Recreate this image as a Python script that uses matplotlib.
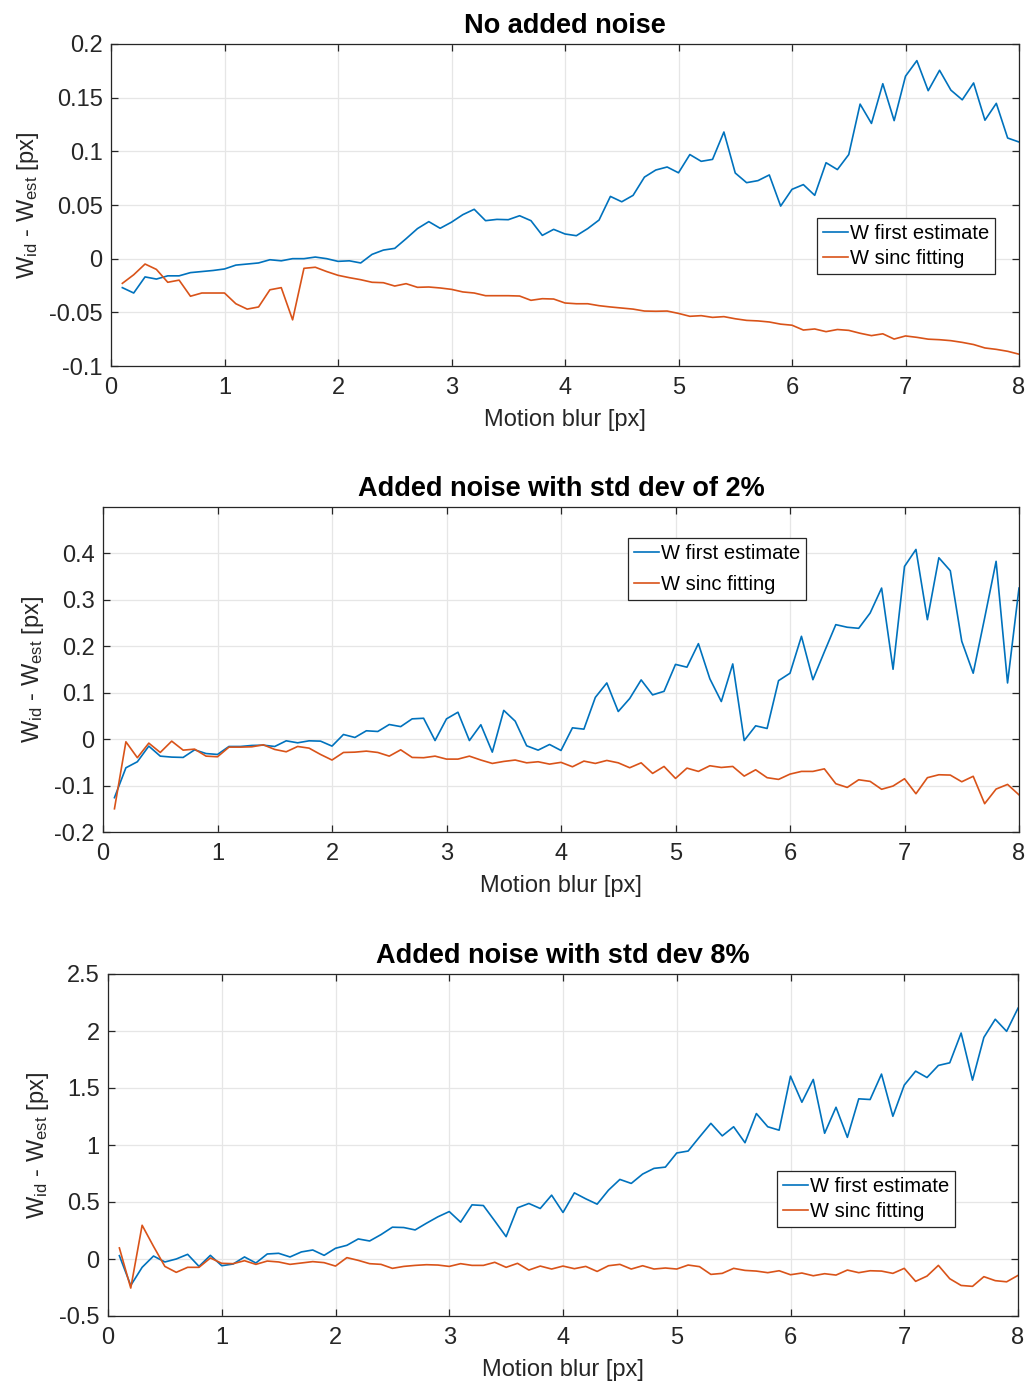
import matplotlib
matplotlib.use('Agg')
import matplotlib.pyplot as plt
import numpy as np
from matplotlib.ticker import FormatStrFormatter

plt.rcParams['font.family'] = ['Liberation Sans', 'DejaVu Sans']
plt.rcParams['mathtext.fontset'] = 'custom'
plt.rcParams['mathtext.rm'] = 'Liberation Sans'
plt.rcParams['mathtext.it'] = 'Liberation Sans'
plt.rcParams['axes.unicode_minus'] = False

motion_blur = np.linspace(0.1, 8.0, 80)

# no added noise
first_est_0 = [-0.027, -0.032, -0.017, -0.019, -0.016, -0.016, -0.013, -0.012, -0.011, -0.0096,
               -0.006, -0.005, -0.004, -0.001, -0.002, 0.000, 0.000, 0.0015, 0.000, -0.0025,
               -0.002, -0.004, 0.004, 0.008, 0.0096, 0.0186, 0.028, 0.0345, 0.0283, 0.034,
               0.041, 0.046, 0.0354, 0.0366, 0.0363, 0.040, 0.0354, 0.0217, 0.0273, 0.023,
               0.0214, 0.028, 0.036, 0.058, 0.053, 0.059, 0.076, 0.0826, 0.0854, 0.080,
               0.097, 0.0907, 0.0925, 0.118, 0.0798, 0.0708, 0.0727, 0.078, 0.049, 0.0646,
               0.069, 0.059, 0.0894, 0.083, 0.097, 0.144, 0.126, 0.163, 0.1286, 0.170,
               0.1845, 0.1565, 0.1755, 0.157, 0.148, 0.1637, 0.129, 0.1447, 0.1124, 0.1087]
sinc_fit_0 = [-0.023, -0.015, -0.005, -0.010, -0.022, -0.020, -0.035, -0.032, -0.032, -0.032,
              -0.042, -0.047, -0.045, -0.029, -0.027, -0.057, -0.009, -0.008, -0.012, -0.0155,
              -0.0177, -0.0196, -0.022, -0.0224, -0.0255, -0.0233, -0.0267, -0.0264, -0.0273, -0.0286,
              -0.031, -0.032, -0.0345, -0.0345, -0.0345, -0.0348, -0.0388, -0.0373, -0.0376, -0.0413,
              -0.042, -0.042, -0.0438, -0.045, -0.046, -0.047, -0.0488, -0.049, -0.0488, -0.051,
              -0.0537, -0.0531, -0.0547, -0.054, -0.056, -0.0575, -0.058, -0.059, -0.061, -0.062,
              -0.0665, -0.0655, -0.068, -0.066, -0.0668, -0.0695, -0.0717, -0.070, -0.0749, -0.072,
              -0.0733, -0.075, -0.0755, -0.0764, -0.078, -0.080, -0.0832, -0.0845, -0.0863, -0.089]

# noise std 2%
first_est_2 = [-0.126, -0.0617, -0.0487, -0.015, -0.0366, -0.0387, -0.0394, -0.023, -0.031, -0.033,
               -0.0158, -0.0158, -0.0136, -0.013, -0.0158, -0.0036, -0.0079, -0.0036, -0.0043, -0.015,
               0.010, 0.0036, 0.018, 0.0165, 0.0315, 0.027, 0.0437, 0.045, -0.003, 0.0437,
               0.058, -0.003, 0.031, -0.028, 0.062, 0.0387, -0.0143, -0.0237, -0.0115, -0.0244,
               0.0244, 0.0215, 0.090, 0.121, 0.0595, 0.0875, 0.1276, 0.0953, 0.103, 0.161,
               0.155, 0.2057, 0.130, 0.081, 0.162, -0.003, 0.0287, 0.023, 0.126, 0.142,
               0.2215, 0.128, 0.188, 0.2466, 0.241, 0.2387, 0.2717, 0.3254, 0.1505, 0.372,
               0.4086, 0.2573, 0.3907, 0.3627, 0.2108, 0.142, 0.261, 0.383, 0.121, 0.3254]
sinc_fit_2 = [-0.15, -0.0057, -0.040, -0.0086, -0.0287, -0.0043, -0.0237, -0.0215, -0.0366, -0.038,
              -0.0172, -0.0172, -0.0165, -0.0122, -0.0222, -0.0272, -0.0158, -0.0194, -0.033, -0.045,
              -0.0287, -0.028, -0.0258, -0.0287, -0.0366, -0.023, -0.0394, -0.040, -0.0366, -0.043,
              -0.043, -0.0366, -0.045, -0.0523, -0.048, -0.045, -0.051, -0.0487, -0.0538, -0.050,
              -0.0595, -0.0473, -0.0523, -0.0459, -0.051, -0.0616, -0.051, -0.0738, -0.0588, -0.0846,
              -0.0624, -0.0695, -0.0573, -0.061, -0.0588, -0.0796, -0.066, -0.083, -0.0867, -0.0753,
              -0.0695, -0.0695, -0.064, -0.096, -0.104, -0.0875, -0.091, -0.108, -0.101, -0.0853,
              -0.1176, -0.083, -0.0767, -0.0774, -0.0918, -0.080, -0.139, -0.1075, -0.0975, -0.120]

# noise std 8%
first_est_8 = [0.029, -0.232, -0.073, 0.026, -0.026, 0.0, 0.041, -0.065, 0.032, -0.059,
               -0.044, 0.018, -0.035, 0.044, 0.05, 0.018, 0.062, 0.079, 0.032, 0.094,
               0.12, 0.176, 0.158, 0.214, 0.279, 0.276, 0.255, 0.314, 0.37, 0.416,
               0.323, 0.475, 0.469, 0.334, 0.196, 0.449, 0.487, 0.443, 0.56, 0.408,
               0.58, 0.528, 0.481, 0.604, 0.698, 0.663, 0.745, 0.795, 0.806, 0.93,
               0.947, 1.07, 1.19, 1.08, 1.16, 1.02, 1.276, 1.16, 1.13, 1.604,
               1.375, 1.575, 1.103, 1.331, 1.067, 1.405, 1.399, 1.622, 1.252, 1.525,
               1.648, 1.592, 1.698, 1.721, 1.982, 1.569, 1.944, 2.103, 1.997, 2.2]
sinc_fit_8 = [0.097, -0.255, 0.296, 0.111, -0.065, -0.117, -0.073, -0.073, 0.009, -0.038,
              -0.041, -0.015, -0.047, -0.018, -0.026, -0.047, -0.035, -0.023, -0.032, -0.062,
              0.012, -0.012, -0.041, -0.047, -0.082, -0.065, -0.056, -0.05, -0.053, -0.065,
              -0.041, -0.056, -0.056, -0.029, -0.073, -0.038, -0.097, -0.062, -0.088, -0.062,
              -0.085, -0.065, -0.109, -0.059, -0.047, -0.088, -0.059, -0.088, -0.079, -0.088,
              -0.053, -0.067, -0.135, -0.126, -0.082, -0.1, -0.106, -0.12, -0.103, -0.138,
              -0.123, -0.147, -0.129, -0.141, -0.097, -0.12, -0.103, -0.106, -0.126, -0.082,
              -0.196, -0.15, -0.056, -0.173, -0.232, -0.24, -0.155, -0.19, -0.2, -0.144]

titles = ['No added noise', 'Added noise with std dev of 2%', 'Added noise with std dev 8%']
legend_labels = ['W first estimate', 'W sinc fitting']

BLUE = '#0072BD'
ORANGE = '#D95319'
DARK = '#262626'

W, H = 1030, 1381
fig = plt.figure(figsize=(W / 100, H / 100), dpi=100)

def px_axes(left, top, right, bottom):
    return fig.add_axes([left / W, 1 - bottom / H, (right - left) / W, (bottom - top) / H])

panels = [
    dict(box=(111, 44, 1019, 366), ylim=(-0.1, 0.2), yticks=np.arange(-0.1, 0.2001, 0.05),
         first=first_est_0, sinc=sinc_fit_0, leg=(0.7775, 0.46), spacing=0.3),
    dict(box=(103, 507, 1019, 832), ylim=(-0.2, 0.5), yticks=np.arange(-0.2, 0.4001, 0.1),
         first=first_est_2, sinc=sinc_fit_2, leg=(0.573, 0.905), spacing=0.6),
    dict(box=(108, 974, 1018, 1316), ylim=(-0.5, 2.5), yticks=np.arange(-0.5, 2.5001, 0.5),
         first=first_est_8, sinc=sinc_fit_8, leg=(0.735, 0.425), spacing=0.3),
]

for p, title in zip(panels, titles):
    ax = px_axes(*p['box'])
    ax.plot(motion_blur, p['first'], color=BLUE, lw=1.2, label=legend_labels[0])
    ax.plot(motion_blur, p['sinc'], color=ORANGE, lw=1.2, label=legend_labels[1])
    ax.set_xlim(0, 8)
    ax.set_ylim(*p['ylim'])
    ax.set_xticks(np.arange(0, 9, 1))
    ax.set_yticks(p['yticks'])
    ax.yaxis.set_major_formatter(FormatStrFormatter('%g'))
    ax.grid(True, color='#e6e6e6', lw=0.9)
    ax.set_axisbelow(True)
    for s in ax.spines.values():
        s.set_color(DARK)
        s.set_linewidth(0.9)
    ax.tick_params(direction='in', length=5, width=0.9, top=True, right=True,
                   labelsize=17, colors=DARK)
    ax.tick_params(axis='x', pad=8)
    ax.tick_params(axis='y', pad=6)
    ax.set_title(title, fontsize=19.5, fontweight='bold', pad=8, color='black')
    ax.set_xlabel('Motion blur [px]', fontsize=17, color=DARK, labelpad=7)
    ax.set_ylabel(r'W$_{\mathrm{id}}$ - W$_{\mathrm{est}}$ [px]', fontsize=17, color=DARK, labelpad=6)
    leg = ax.legend(loc='upper left', bbox_to_anchor=p['leg'], borderaxespad=0,
                    fontsize=14.5, fancybox=False, framealpha=1, edgecolor=DARK,
                    handlelength=1.25, handletextpad=0.1, borderpad=0.3,
                    labelspacing=p['spacing'])
    leg.get_frame().set_linewidth(0.9)

fig.savefig('out.png', dpi=100)
